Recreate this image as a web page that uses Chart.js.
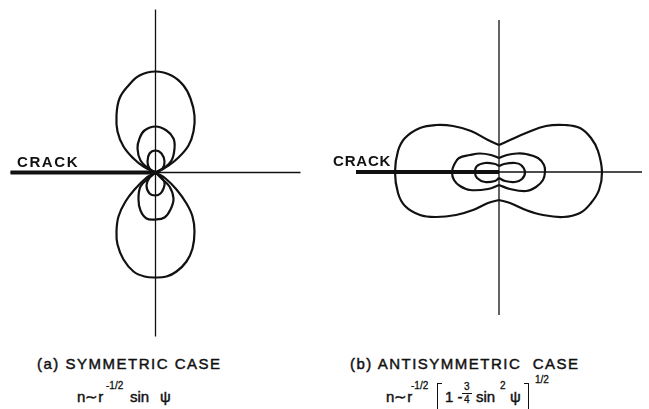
<!DOCTYPE html>
<html>
<head>
<meta charset="utf-8">
<script src="https://cdn.jsdelivr.net/npm/chart.js@4/dist/chart.umd.min.js"></script>
<style>
  html, body { margin: 0; padding: 0; background: #fff; }
  body { width: 649px; height: 409px; position: relative; overflow: hidden; font-family: "Liberation Sans", Arial, sans-serif; color: #111; }
  canvas { position: absolute; top: 0; }
  .t { position: absolute; white-space: nowrap; line-height: 1; -webkit-text-stroke: 0.45px #111; }
  .m { font-size: 15px; }
  .s { font-size: 10px; -webkit-text-stroke: 0.3px #111; }
  .crack { font-size: 15px; font-weight: bold; letter-spacing: 1.6px; -webkit-text-stroke: 0; }
  .cap { font-size: 15px; letter-spacing: 1.5px; }
  .brk { position: absolute; border: 1.6px solid #111; height: 25px; width: 4px; }
</style>
</head>
<body>
<canvas id="symC" width="320" height="345" style="left:0"></canvas>
<canvas id="antiC" width="329" height="345" style="left:320px"></canvas>

<div class="t crack" style="left:17px; top:154px;">CRACK</div>
<div class="t crack" style="left:333px; top:153px; letter-spacing:0.8px;">CRACK</div>

<div class="t cap" style="left:37px; top:356px;">(a) SYMMETRIC CASE</div>
<div class="t cap" style="left:350px; top:356px;">(b) ANTISYMMETRIC&nbsp; CASE</div>

<!-- formula (a) -->
<div class="t m" style="left:77px; top:389px;">n∼r</div>
<div class="t s" style="left:106px; top:381px;">-1/2</div>
<div class="t m" style="left:130px; top:389px;">sin</div>
<div class="t m" style="left:160px; top:389px;">ψ</div>

<!-- formula (b) -->
<div class="t m" style="left:386px; top:389px;">n∼r</div>
<div class="t s" style="left:411px; top:381px;">-1/2</div>
<div class="brk" style="left:437px; top:383px; border-right:none;"></div>
<div class="t m" style="left:445px; top:389px;">1 -</div>
<div class="t s" style="left:464px; top:382px;">3</div>
<div style="position:absolute; left:462px; top:393px; width:10px; border-top:1.3px solid #111;"></div>
<div class="t s" style="left:464px; top:395px;">4</div>
<div class="t m" style="left:476px; top:389px;">sin</div>
<div class="t s" style="left:500px; top:381px;">2</div>
<div class="t m" style="left:510px; top:389px;">ψ</div>
<div class="brk" style="left:524px; top:383px; border-left:none;"></div>
<div class="t s" style="left:535px; top:375px;">1/2</div>

<script>
// ---- (a) symmetric case: contour curves, relative to crack tip ----
const symOuterUpper = [[0,0],[13,7],[23,15],[33,27],[38,41],[39,57],[35,74],[28,87],[16,97],[0,101],[-16,97],[-27,87],[-36,74],[-39,57],[-38,41],[-32,26],[-22,14],[-12,6],[0,0]];
const symMidUpper   = [[0,0],[8,4],[16,12],[19,24],[18,34],[11,42],[0,46],[-11,42],[-16,34],[-18,24],[-15,12],[-7,4],[0,0]];
const symInnerUpper = [[0,0],[7,4],[9,11],[6,19],[0,22],[-6,19],[-8,11],[-6,4],[0,0]];
const symOuterLower = [[0,0],[10,-6],[21,-17],[31,-31],[37,-44],[39,-59],[37,-76],[31,-89],[21,-99],[11,-104],[0,-105],[-11,-104],[-22,-99],[-32,-87],[-38,-72],[-39,-59],[-37,-44],[-30,-29],[-20,-16],[-10,-6],[0,0]];
const symMidLower   = [[0,0],[6,-6],[14,-14],[18,-26],[15,-37],[9,-45],[0,-47],[-9,-46],[-15,-38],[-17,-27],[-15,-14],[-7,-6],[0,0]];
const symInnerLower = [[0,0],[5,-4],[9,-10],[8,-16],[5,-21],[0,-23],[-6,-21],[-9,-13],[-6,-5],[0,0]];
const symAxisV = [[0,163],[0,-164]];
const symAxisH = [[-145,0],[145,0]];
const symCrack = [[-145,0],[0,0]];

// ---- (b) antisymmetric case ----
const antiOuterRight = [[0,27],[11,32],[27,39],[47,46],[66,47],[81,44],[92,34],[99,21],[103,0],[100,-18],[92,-31],[81,-41],[64,-45],[44,-43],[27,-38],[11,-31],[0,-28]];
const antiOuterLeft  = [[0,27],[-11,32],[-28,41],[-46,46],[-63,47],[-79,44],[-94,34],[-101,21],[-104,0],[-101,-21],[-94,-34],[-79,-43],[-63,-45],[-43,-43],[-26,-38],[-11,-31],[0,-28]];
const antiMidRight   = [[0,14],[8,17],[18,18.5],[27,18],[39,14],[45,7],[46,0],[44,-8],[37,-15],[27,-19],[11,-17],[0,-13]];
const antiMidLeft    = [[0,14],[-8,17],[-19,18.5],[-29,17],[-40,14],[-45,7],[-47,0],[-45,-8],[-39,-14],[-29,-18],[-11,-17],[0,-13]];
const antiInnerRight = [[0,6],[5,8],[16,9],[22,7],[26,0],[23,-7],[16,-10],[6,-9],[0,-6]];
const antiInnerLeft  = [[0,6],[-4,8],[-14,9],[-22,6],[-24,0],[-22,-6],[-14,-10],[-4,-9],[0,-6]];
const antiAxisV = [[0,152],[0,-143]];
const antiAxisH = [[-143,0],[143,0]];
const antiCrack = [[-143,0],[0,0]];

const INK = '#111';
function ds(points, width, tension) {
  return {
    data: points.map(p => ({x: p[0], y: p[1]})),
    showLine: true, borderColor: INK, borderWidth: width,
    pointRadius: 0, tension: tension, fill: false, borderCapStyle: 'butt'
  };
}
function makeChart(id, datasets, xr, yr) {
  return new Chart(document.getElementById(id), {
    type: 'scatter',
    data: { datasets: datasets },
    options: {
      responsive: false, animation: false,
      layout: { padding: 0 },
      plugins: { legend: { display: false }, tooltip: { enabled: false } },
      scales: {
        x: { type: 'linear', min: xr[0], max: xr[1], display: false },
        y: { type: 'linear', min: yr[0], max: yr[1], display: false }
      }
    }
  });
}

makeChart('symC', [
  ds(symAxisV, 1.3, 0), ds(symAxisH, 1.3, 0), ds(symCrack, 4, 0),
  ds(symOuterUpper, 2.2, 0.4), ds(symMidUpper, 2.2, 0.4), ds(symInnerUpper, 2.2, 0.4),
  ds(symOuterLower, 2.2, 0.4), ds(symMidLower, 2.2, 0.4), ds(symInnerLower, 2.2, 0.4)
], [-155.5, 164.5], [-172.5, 172.5]);

makeChart('antiC', [
  ds(antiAxisV, 1.3, 0), ds(antiAxisH, 1.3, 0), ds(antiCrack, 4, 0),
  ds(antiOuterRight, 2.2, 0.4), ds(antiOuterLeft, 2.2, 0.4),
  ds(antiMidRight, 2.2, 0.4), ds(antiMidLeft, 2.2, 0.4),
  ds(antiInnerRight, 2.2, 0.4), ds(antiInnerLeft, 2.2, 0.4)
], [-179, 150], [-173, 172]);
</script>
</body>
</html>
